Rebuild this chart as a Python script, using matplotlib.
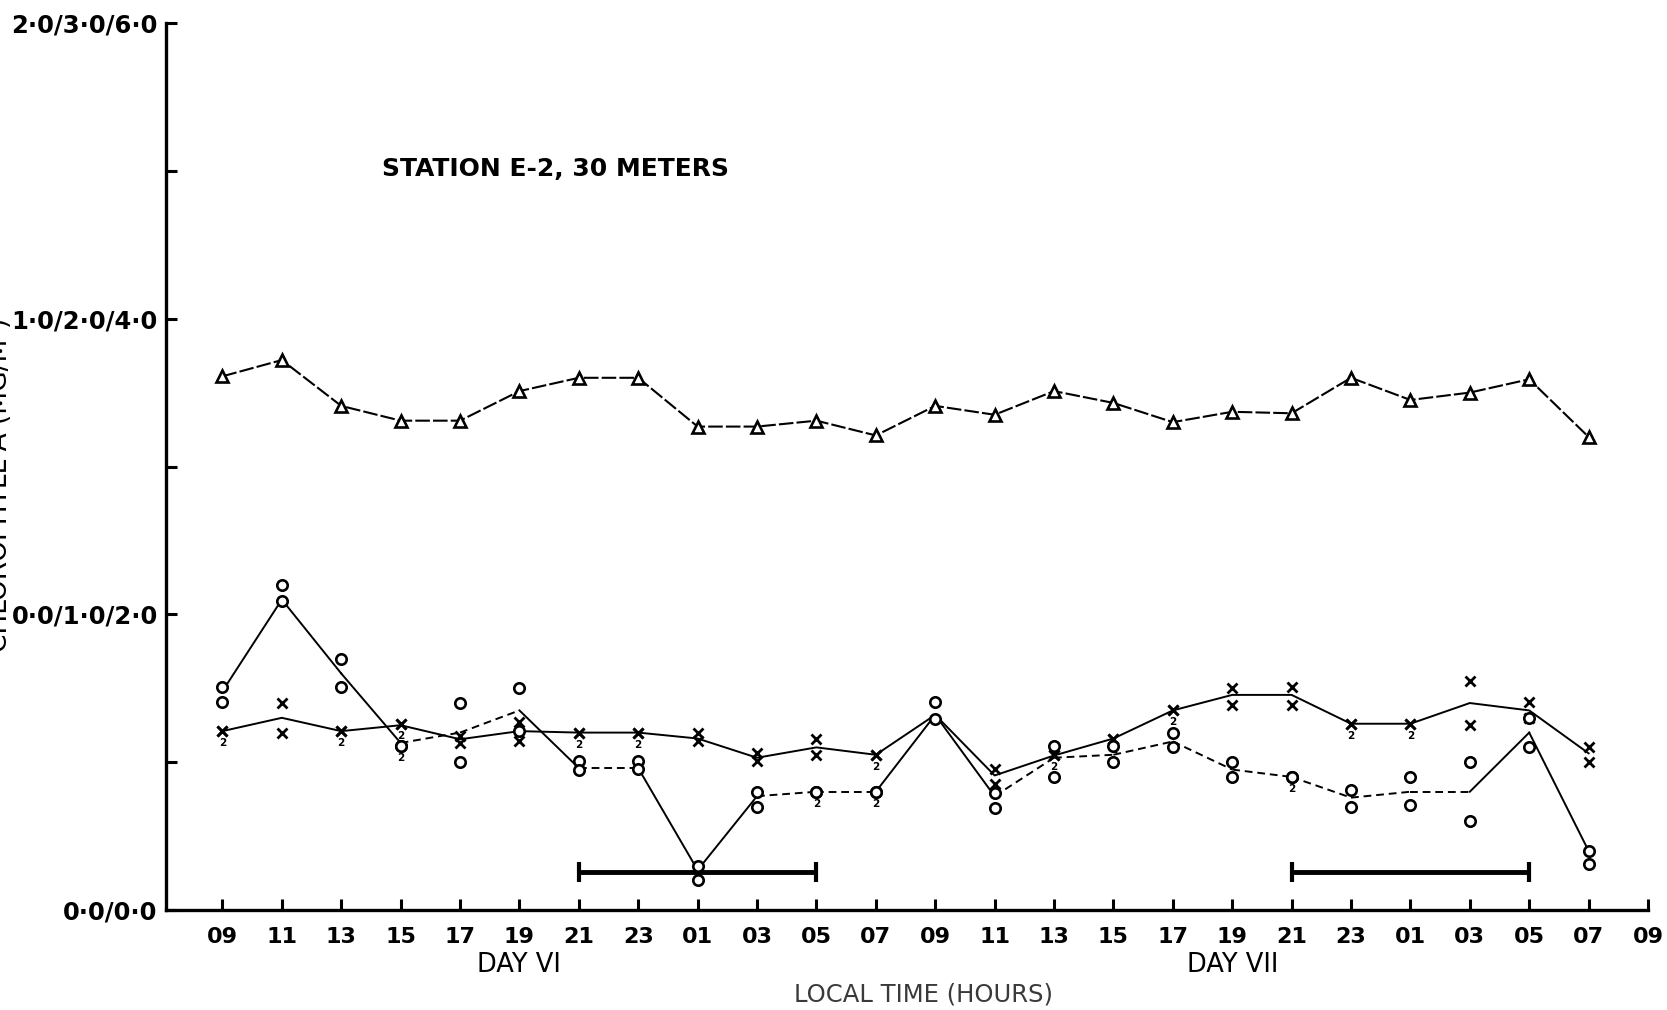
import matplotlib
matplotlib.use("Agg")
import matplotlib.pyplot as plt
import numpy as np

nan = np.nan

# sampling times, every 2 h from 09 on day VI to 09 on day VIII
hour_labels = ["09", "11", "13", "15", "17", "19", "21", "23", "01", "03", "05", "07",
               "09", "11", "13", "15", "17", "19", "21", "23", "01", "03", "05", "07", "09"]
day_names = ["DAY VI", "DAY VII"]
day_pos = [5, 17]

# triangle series (upper curve)
tri_vals = [3.61, 3.72, 3.41, 3.31, 3.31, 3.51, 3.60, 3.60, 3.27, 3.27, 3.31, 3.21,
            3.41, 3.35, 3.51, 3.43, 3.30, 3.37, 3.36, 3.60, 3.45, 3.50, 3.59, 3.20]

# cross series: replicate points and the drawn mean line
x_rep_a = [1.21, 1.40, 1.21, 1.26, 1.18, 1.27, 1.20, 1.20, 1.20, 1.06, 1.16, 1.05,
           nan, 0.955, 1.05, 1.16, 1.35, 1.50, 1.51, 1.26, 1.26, 1.55, 1.41, 1.10]
x_rep_b = [1.21, 1.20, 1.21, 1.26, 1.13, 1.14, 1.20, 1.20, 1.14, 1.01, 1.05, 1.05,
           nan, 0.85, 1.05, 1.16, 1.35, 1.39, 1.39, 1.26, 1.26, 1.25, 1.30, 1.00]
x_line = [1.21, 1.30, 1.21, 1.25, 1.155, 1.21, 1.20, 1.20, 1.16, 1.03, 1.10, 1.05,
          1.32, 0.91, 1.045, 1.16, 1.35, 1.455, 1.455, 1.26, 1.26, 1.40, 1.35, 1.06]

# circle series: replicate points and the drawn mean line
o_rep_a = [1.51, 2.20, 1.70, 1.11, 1.40, 1.50, 1.01, 1.01, 0.30, 0.80, 0.80, 0.80,
           1.41, 0.79, 1.11, 1.11, 1.20, 1.00, 0.90, 0.81, 0.90, 1.00, 1.30, 0.40]
o_rep_b = [1.41, 2.09, 1.51, 1.11, 1.00, 1.21, 0.95, 0.955, 0.20, 0.70, 0.80, 0.80,
           1.29, 0.69, 0.90, 1.00, 1.10, 0.90, 0.90, 0.70, 0.71, 0.60, 1.10, 0.31]
o_line = [1.48, 2.10, 1.60, 1.13, 1.20, 1.35, 0.96, 0.96, 0.27, 0.77, 0.80, 0.80,
          1.32, 0.77, 1.03, 1.05, 1.14, 0.95, 0.90, 0.76, 0.80, 0.80, 1.20, 0.40]
# segment of the circle line drawn solid (1) or dashed (0)
o_seg_solid = [1, 1, 1, 0, 0, 1, 0, 1, 1, 0, 0, 1, 1, 0, 0, 0, 0, 0, 0, 0, 0, 1, 1]

# dark periods (index of 21 h to index of 05 h)
night_start = [6, 18]
night_end = [10, 22]
night_level = 0.26

ytick_vals = [0, 1, 2, 3, 4, 5, 6]
ytick_text = ["0·0/0·0", "", "0·0/1·0/2·0", "", "1·0/2·0/4·0", "", "2·0/3·0/6·0"]

fig = plt.figure(figsize=(16.67, 10.10), dpi=100)
ax = fig.add_axes([166 / 1667, 1 - 910 / 1010, 1482 / 1667, 887 / 1010])

t = np.arange(len(tri_vals))

# upper triangle curve
ax.plot(t, tri_vals, color="black", lw=1.5, dashes=(7, 1.5),
        marker="^", ms=8.5, mfc="white", mec="black", mew=1.9, zorder=3)

# cross mean line + replicates
ax.plot(t, x_line, color="black", lw=1.4, zorder=2)
ax.plot(t, x_rep_a, ls="none", marker="x", ms=7, mec="black", mew=2, zorder=4)
ax.plot(t, x_rep_b, ls="none", marker="x", ms=7, mec="black", mew=2, zorder=4)

# circle mean line, segment by segment
for i in range(len(o_line) - 1):
    if o_seg_solid[i]:
        ax.plot(t[i:i + 2], o_line[i:i + 2], color="black", lw=1.4, zorder=2)
    else:
        ax.plot(t[i:i + 2], o_line[i:i + 2], color="black", lw=1.4,
                dashes=(4, 2.5), zorder=2)
ax.plot(t, o_rep_a, ls="none", marker="o", ms=7.5, mfc="white", mec="black",
        mew=1.9, zorder=4)
ax.plot(t, o_rep_b, ls="none", marker="o", ms=7.5, mfc="white", mec="black",
        mew=1.9, zorder=4)

# "2" under points where both replicates fall together
for a_list, b_list in [(x_rep_a, x_rep_b), (o_rep_a, o_rep_b)]:
    for i in range(len(a_list)):
        if not np.isnan(a_list[i]) and a_list[i] == b_list[i]:
            ax.annotate("2", (t[i], a_list[i]), xytext=(0, -5), textcoords="offset points",
                        ha="center", va="top", fontsize=7.5, fontweight="bold")

# night bars
for s, e in zip(night_start, night_end):
    ax.plot([s, e], [night_level, night_level], color="black", lw=3.5,
            solid_capstyle="butt", zorder=2)
    ax.plot([s, e], [night_level, night_level], ls="none", marker="|", ms=14,
            mew=3, color="black", zorder=2)

ax.set_xlim(-0.95, 24.0)
ax.set_ylim(0, 6)

for side in ["top", "right"]:
    ax.spines[side].set_visible(False)
for side in ["left", "bottom"]:
    ax.spines[side].set_linewidth(2.4)

ax.set_xticks(range(len(hour_labels)))
ax.set_xticklabels(hour_labels, fontsize=16, fontweight="bold")
ax.set_yticks(ytick_vals)
ax.set_yticklabels(ytick_text, fontsize=17.5, fontweight="bold")
ax.tick_params(axis="x", direction="in", length=8, width=2.2, pad=12)
ax.tick_params(axis="y", direction="in", length=8, width=2.2, pad=6)

for name, pos in zip(day_names, day_pos):
    ax.text(pos, -0.375, name, ha="center", va="center", fontsize=18.5)

ax.text(11.8, -0.57, "LOCAL TIME (HOURS)", ha="center", va="center", fontsize=17.5,
        color="#3a3a3a")
ax.text(0.146, 0.835, "STATION E-2, 30 METERS", transform=ax.transAxes,
        ha="left", va="center", fontsize=18, fontweight="bold")

# axis title sits half off the left edge, as in the scanned figure
fig.text(0.0, 0.52, "CHLOROPHYLL A (MG/M³)", rotation=90, ha="center",
         va="center", fontsize=19)

fig.savefig("out.png", dpi=100, facecolor="white")
